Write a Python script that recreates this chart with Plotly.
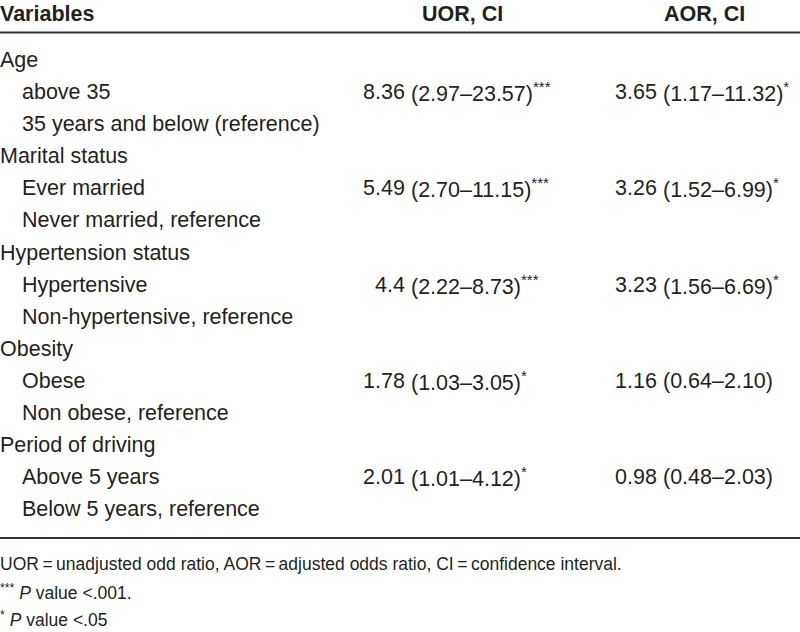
import plotly.graph_objects as go

# ---- data ----
variables = [
    "Age", "above 35", "35 years and below (reference)",
    "Marital status", "Ever married", "Never married, reference",
    "Hypertension status", "Hypertensive", "Non-hypertensive, reference",
    "Obesity", "Obese", "Non obese, reference",
    "Period of driving", "Above 5 years", "Below 5 years, reference",
]
is_group = [True, False, False] * 5
uor_or = ["", "8.36", "", "", "5.49", "", "", "4.4", "", "", "1.78", "", "", "2.01", ""]
uor_ci = ["", "2.97–23.57", "", "", "2.70–11.15", "", "", "2.22–8.73", "", "",
          "1.03–3.05", "", "", "1.01–4.12", ""]
uor_sig = ["", "***", "", "", "***", "", "", "***", "", "", "*", "", "", "*", ""]
aor_or = ["", "3.65", "", "", "3.26", "", "", "3.23", "", "", "1.16", "", "", "0.98", ""]
aor_ci = ["", "1.17–11.32", "", "", "1.52–6.99", "", "", "1.56–6.69", "", "",
          "0.64–2.10", "", "", "0.48–2.03", ""]
aor_sig = ["", "*", "", "", "*", "", "", "*", "", "", "", "", "", "", ""]
headers = ["Variables", "UOR, CI", "AOR, CI"]
footnotes = [
    "UOR\u2009=\u2009unadjusted odd ratio, AOR\u2009=\u2009adjusted odds ratio, CI\u2009=\u2009confidence interval.",
    "<sup>***</sup> <i>P</i> value &lt;.001.",
    "<sup>*</sup> <i>P</i> value &lt;.05",
]

# ---- layout constants ----
W, H = 800, 632
FONT = "Liberation Sans, Arial, Helvetica, sans-serif"
COLOR = "#231f20"
BODY = 21.5
ROW0, ROWH = 60, 32.1
HEAD_Y = 14
FOOT0, FOOTH = 564, 27.5
UOR_NUM_END, UOR_PAREN = 405, 411
AOR_NUM_END, AOR_PAREN = 657, 663


def px(x):
    return x / W


def py(y):
    return 1 - y / H


ann = []


def add(text, x, y, xanchor="left", size=BODY):
    ann.append(dict(text=text, x=px(x), y=py(y), xref="paper", yref="paper",
                    xanchor=xanchor, yanchor="middle", showarrow=False,
                    borderpad=0, borderwidth=0,
                    font=dict(family=FONT, size=size, color=COLOR)))


add("<b>" + headers[0] + "</b>", 0, HEAD_Y)
add("<b>" + headers[1] + "</b>", 503, HEAD_Y, "right")
add("<b>" + headers[2] + "</b>", 745, HEAD_Y, "right")


def ci_text(ci, sig):
    return "(" + ci + ")" + ("<sup>" + sig + "</sup>" if sig else "")


for i, v in enumerate(variables):
    y = ROW0 + i * ROWH
    add(v, 0 if is_group[i] else 22, y)
    if uor_or[i]:
        add(uor_or[i], UOR_NUM_END, y, "right")
        add(ci_text(uor_ci[i], uor_sig[i]), UOR_PAREN, y, "left")
    if aor_or[i]:
        add(aor_or[i], AOR_NUM_END, y, "right")
        add(ci_text(aor_ci[i], aor_sig[i]), AOR_PAREN, y, "left")

for j, f in enumerate(footnotes):
    add(f, 0, FOOT0 + j * FOOTH, size=17.5)

fig = go.Figure()
fig.update_layout(
    width=W, height=H, margin=dict(l=0, r=0, t=0, b=0),
    paper_bgcolor="white", plot_bgcolor="white",
    xaxis=dict(visible=False), yaxis=dict(visible=False),
    annotations=ann,
    shapes=[
        dict(type="line", xref="paper", yref="paper", x0=0, x1=1,
             y0=py(32.5), y1=py(32.5), line=dict(color="#333", width=2)),
        dict(type="line", xref="paper", yref="paper", x0=0, x1=1,
             y0=py(538), y1=py(538), line=dict(color="#333", width=2)),
    ],
)
fig.write_html("out.html", config={"displayModeBar": False},
               post_script="document.body.style.margin='0';document.body.style.overflow='hidden';")
